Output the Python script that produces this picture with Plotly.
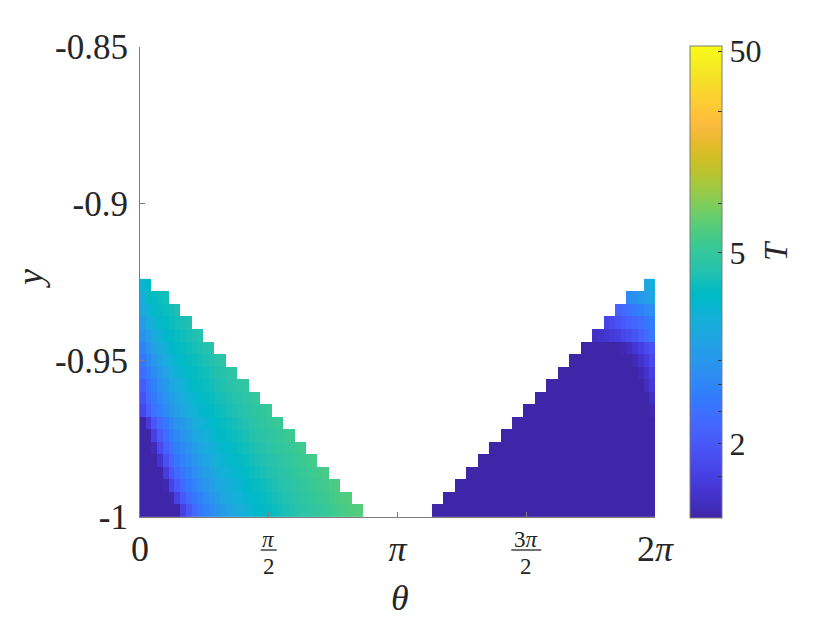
import numpy as np
import plotly.graph_objects as go

# ---------------- grid (theta columns, y rows) ----------------
N_THETA = 90
N_Y = 19
Y_BOTTOM, Y_TOP = -1.0, -0.924
theta_edges = np.linspace(0.0, 2 * np.pi, N_THETA + 1)
y_edges = np.linspace(Y_BOTTOM, Y_TOP, N_Y + 1)

# ---------------- data: T values (rows bottom -> top) ----------------
# left wedge: each row starts at theta = 0
T_left = [
    [1.5, 1.5, 1.5, 1.5, 1.5, 1.5, 1.65, 1.83, 1.99, 2.16, 2.29, 2.42, 2.54, 2.68, 2.81, 2.96, 3.13, 3.27, 3.40, 3.51,
     3.64, 3.78, 3.89, 4.00, 4.11, 4.24, 4.37, 4.51, 4.62, 4.74, 4.88, 5.01, 5.17, 5.31, 5.48, 5.64, 5.81, 5.96, 6.12],
    [1.5, 1.5, 1.5, 1.5, 1.5, 1.67, 1.84, 2.01, 2.17, 2.30, 2.43, 2.56, 2.70, 2.83, 3.00, 3.15, 3.29, 3.41, 3.53, 3.66,
     3.80, 3.91, 4.02, 4.15, 4.27, 4.40, 4.52, 4.63, 4.76, 4.89, 5.04, 5.19, 5.35, 5.50, 5.68, 5.83, 5.96],
    [1.5, 1.5, 1.5, 1.5, 1.67, 1.85, 2.02, 2.17, 2.31, 2.44, 2.57, 2.71, 2.86, 3.01, 3.17, 3.30, 3.42, 3.55, 3.70,
     3.82, 3.93, 4.05, 4.16, 4.30, 4.42, 4.55, 4.66, 4.78, 4.92, 5.06, 5.22, 5.37, 5.54, 5.70, 5.85],
    [1.5, 1.5, 1.5, 1.5, 1.80, 1.99, 2.15, 2.29, 2.42, 2.56, 2.70, 2.85, 3.01, 3.18, 3.31, 3.44, 3.57, 3.72,
     3.84, 3.96, 4.07, 4.19, 4.33, 4.45, 4.57, 4.69, 4.82, 4.96, 5.10, 5.26, 5.40, 5.56, 5.74],
    [1.5, 1.5, 1.5, 1.75, 1.94, 2.12, 2.26, 2.41, 2.54, 2.70, 2.85, 3.01, 3.19, 3.32, 3.46, 3.59, 3.74,
     3.87, 3.98, 4.09, 4.21, 4.36, 4.47, 4.59, 4.71, 4.85, 4.98, 5.13, 5.27, 5.44, 5.60],
    [1.5, 1.5, 1.69, 1.90, 2.08, 2.24, 2.38, 2.52, 2.68, 2.84, 3.01, 3.19, 3.33, 3.47, 3.62,
     3.78, 3.89, 4.00, 4.11, 4.24, 4.37, 4.50, 4.61, 4.74, 4.86, 5.01, 5.15, 5.31, 5.46],
    [1.5, 1.5, 1.84, 2.03, 2.20, 2.37, 2.51, 2.67, 2.83, 3.01, 3.20, 3.34, 3.49, 3.64,
     3.79, 3.91, 4.02, 4.14, 4.26, 4.40, 4.52, 4.63, 4.75, 4.89, 5.03, 5.18, 5.33],
    [1.5, 1.78, 2.00, 2.18, 2.34, 2.50, 2.66, 2.82, 3.01, 3.21, 3.35, 3.51, 3.66,
     3.81, 3.93, 4.04, 4.16, 4.29, 4.42, 4.54, 4.66, 4.78, 4.91, 5.06, 5.20],
    [1.87, 2.07, 2.24, 2.39, 2.54, 2.71, 2.88, 3.06, 3.24, 3.39, 3.54, 3.70,
     3.83, 3.95, 4.07, 4.19, 4.32, 4.44, 4.57, 4.68, 4.82, 4.94, 5.10],
    [1.96, 2.16, 2.34, 2.49, 2.67, 2.85, 3.04, 3.24, 3.39, 3.55, 3.73,
     3.86, 3.97, 4.08, 4.21, 4.34, 4.46, 4.58, 4.71, 4.83, 4.98],
    [2.04, 2.24, 2.42, 2.60, 2.80, 3.01, 3.23, 3.39, 3.56, 3.76,
     3.88, 3.99, 4.10, 4.24, 4.37, 4.48, 4.61, 4.72, 4.86],
    [2.16, 2.36, 2.55, 2.76, 2.98, 3.23, 3.40, 3.59,
     3.79, 3.90, 4.01, 4.12, 4.26, 4.38, 4.51, 4.62, 4.75],
    [2.27, 2.48, 2.71, 2.95, 3.21, 3.40, 3.62,
     3.81, 3.92, 4.03, 4.15, 4.28, 4.41, 4.54, 4.65],
    [2.43, 2.67, 2.93, 3.20, 3.42, 3.65,
     3.83, 3.94, 4.06, 4.17, 4.31, 4.44, 4.55],
    [2.63, 2.90, 3.20, 3.43, 3.68, 3.85, 3.97, 4.08, 4.20, 4.33, 4.46],
    [2.85, 3.19, 3.44, 3.73, 3.87, 3.99, 4.10, 4.22, 4.36],
    [3.14, 3.46, 3.78, 3.89, 4.01, 4.12, 4.25],
    [3.25, 3.78, 3.90, 4.02, 4.14],
    [3.45, 3.80],
]

# right wedge: each row ends at theta = 2*pi
T_right = [
    [1.5, 1.5, 1.5, 1.5, 1.5, 1.5, 1.5, 1.5, 1.5, 1.5,
     1.5, 1.5, 1.5, 1.5, 1.5, 1.5, 1.5, 1.5, 1.5, 1.5,
     1.5, 1.5, 1.5, 1.5, 1.5, 1.5, 1.5, 1.5, 1.5, 1.5,
     1.5, 1.5, 1.5, 1.5, 1.5, 1.5, 1.5, 1.5, 1.5],
    [1.5, 1.5, 1.5, 1.5, 1.5, 1.5, 1.5, 1.5, 1.5, 1.5,
     1.5, 1.5, 1.5, 1.5, 1.5, 1.5, 1.5, 1.5, 1.5, 1.5,
     1.5, 1.5, 1.5, 1.5, 1.5, 1.5, 1.5, 1.5, 1.5, 1.5,
     1.5, 1.5, 1.5, 1.5, 1.5, 1.5, 1.5],
    [1.5, 1.5, 1.5, 1.5, 1.5, 1.5, 1.5, 1.5, 1.5, 1.5,
     1.5, 1.5, 1.5, 1.5, 1.5, 1.5, 1.5, 1.5, 1.5, 1.5,
     1.5, 1.5, 1.5, 1.5, 1.5, 1.5, 1.5, 1.5, 1.5, 1.5,
     1.5, 1.5, 1.5, 1.5, 1.5],
    [1.5, 1.5, 1.5, 1.5, 1.5, 1.5, 1.5, 1.5, 1.5, 1.5,
     1.5, 1.5, 1.5, 1.5, 1.5, 1.5, 1.5, 1.5, 1.5, 1.5,
     1.5, 1.5, 1.5, 1.5, 1.5, 1.5, 1.5, 1.5, 1.5, 1.5,
     1.5, 1.5, 1.5],
    [1.5, 1.5, 1.5, 1.5, 1.5, 1.5, 1.5, 1.5, 1.5, 1.5,
     1.5, 1.5, 1.5, 1.5, 1.5, 1.5, 1.5, 1.5, 1.5, 1.5,
     1.5, 1.5, 1.5, 1.5, 1.5, 1.5, 1.5, 1.5, 1.5, 1.5,
     1.5],
    [1.5, 1.5, 1.5, 1.5, 1.5, 1.5, 1.5, 1.5, 1.5, 1.5,
     1.5, 1.5, 1.5, 1.5, 1.5, 1.5, 1.5, 1.5, 1.5, 1.5,
     1.5, 1.5, 1.5, 1.5, 1.5, 1.5, 1.5, 1.5, 1.5],
    [1.5, 1.5, 1.5, 1.5, 1.5, 1.5, 1.5, 1.5, 1.5, 1.5,
     1.5, 1.5, 1.5, 1.5, 1.5, 1.5, 1.5, 1.5, 1.5, 1.5,
     1.5, 1.5, 1.5, 1.5, 1.5, 1.5, 1.5],
    [1.5, 1.5, 1.5, 1.5, 1.5, 1.5, 1.5, 1.5, 1.5, 1.5,
     1.5, 1.5, 1.5, 1.5, 1.5, 1.5, 1.5, 1.5, 1.5, 1.5,
     1.5, 1.5, 1.5, 1.5, 1.5],
    [1.5, 1.5, 1.5, 1.5, 1.5, 1.5, 1.5, 1.5, 1.5, 1.5,
     1.5, 1.5, 1.5, 1.5, 1.5, 1.5, 1.5, 1.5, 1.5, 1.5,
     1.5, 1.5, 1.67],
    [1.5, 1.5, 1.5, 1.5, 1.5, 1.5, 1.5, 1.5, 1.5, 1.5,
     1.5, 1.5, 1.5, 1.5, 1.5, 1.5, 1.5, 1.5, 1.5, 1.5,
     1.72],
    [1.5, 1.5, 1.5, 1.5, 1.5, 1.5, 1.5, 1.5, 1.5, 1.5,
     1.5, 1.5, 1.5, 1.5, 1.5, 1.5, 1.5, 1.70, 1.78],
    [1.5, 1.5, 1.5, 1.5, 1.5, 1.5, 1.5, 1.5, 1.5, 1.5,
     1.5, 1.5, 1.5, 1.5, 1.68, 1.74, 1.82],
    [1.5, 1.5, 1.5, 1.5, 1.5, 1.5, 1.5, 1.5, 1.5, 1.5,
     1.5, 1.68, 1.74, 1.80, 1.90],
    [1.5, 1.5, 1.5, 1.5, 1.5, 1.5, 1.5, 1.67, 1.70, 1.76, 1.82, 1.90, 1.97],
    [1.72, 1.74, 1.76, 1.78, 1.82, 1.87, 1.92, 1.97, 2.07, 2.16, 2.28],
    [1.85, 1.90, 1.95, 2.01, 2.07, 2.13, 2.20, 2.28, 2.36],
    [2.10, 2.16, 2.24, 2.32, 2.40, 2.50, 2.60],
    [2.54, 2.65, 2.76, 2.88, 3.01],
    [3.08, 3.31],
]

# axis ticks
x_tick_vals = [0, np.pi / 2, np.pi, 3 * np.pi / 2, 2 * np.pi]
x_tick_text = ["0", "", "<i>π</i>", "", "2<i>π</i>"]
x_frac_num = ["<i>π</i>", "3<i>π</i>"]          # stacked fractions at pi/2 and 3pi/2
x_frac_vals = [np.pi / 2, 3 * np.pi / 2]
y_tick_vals = [-1, -0.95, -0.9, -0.85]
y_tick_text = ["-1", "-0.95", "-0.9", "-0.85"]

# colour axis: log scale of ln(T), range ln T in [0.5, 4]
CB_LN_MIN, CB_LN_MAX = 0.5, 4.0
cb_major_T = [2, 5, 50]
cb_minor_lnT = [0.6, 0.8, 0.9, 1.0, 2.0, 3.0]

# parula (64)
parula = [
    [0.2422, 0.1504, 0.6603], [0.2504, 0.1650, 0.7076], [0.2578, 0.1818, 0.7511], [0.2647, 0.1978, 0.7952],
    [0.2706, 0.2147, 0.8364], [0.2751, 0.2342, 0.8710], [0.2783, 0.2559, 0.8991], [0.2803, 0.2782, 0.9221],
    [0.2813, 0.3006, 0.9414], [0.2810, 0.3228, 0.9579], [0.2795, 0.3447, 0.9717], [0.2760, 0.3667, 0.9829],
    [0.2699, 0.3892, 0.9906], [0.2602, 0.4123, 0.9952], [0.2440, 0.4358, 0.9988], [0.2206, 0.4603, 0.9973],
    [0.1963, 0.4847, 0.9892], [0.1834, 0.5074, 0.9798], [0.1786, 0.5289, 0.9682], [0.1764, 0.5499, 0.9520],
    [0.1687, 0.5703, 0.9359], [0.1540, 0.5902, 0.9218], [0.1460, 0.6091, 0.9079], [0.1380, 0.6276, 0.8973],
    [0.1248, 0.6459, 0.8883], [0.1113, 0.6635, 0.8763], [0.0952, 0.6798, 0.8598], [0.0689, 0.6948, 0.8394],
    [0.0297, 0.7082, 0.8163], [0.0036, 0.7203, 0.7917], [0.0067, 0.7312, 0.7660], [0.0433, 0.7411, 0.7394],
    [0.0964, 0.7500, 0.7120], [0.1408, 0.7584, 0.6842], [0.1717, 0.7670, 0.6554], [0.1938, 0.7758, 0.6251],
    [0.2161, 0.7843, 0.5923], [0.2470, 0.7918, 0.5567], [0.2906, 0.7973, 0.5188], [0.3406, 0.8008, 0.4789],
    [0.3909, 0.8029, 0.4354], [0.4456, 0.8024, 0.3909], [0.5044, 0.7993, 0.3480], [0.5616, 0.7942, 0.3045],
    [0.6174, 0.7876, 0.2612], [0.6720, 0.7793, 0.2227], [0.7242, 0.7698, 0.1910], [0.7738, 0.7598, 0.1646],
    [0.8203, 0.7498, 0.1535], [0.8634, 0.7406, 0.1596], [0.9035, 0.7330, 0.1774], [0.9393, 0.7288, 0.2100],
    [0.9728, 0.7298, 0.2394], [0.9956, 0.7434, 0.2371], [0.9970, 0.7659, 0.2199], [0.9952, 0.7893, 0.2028],
    [0.9892, 0.8136, 0.1885], [0.9786, 0.8386, 0.1766], [0.9676, 0.8639, 0.1643], [0.9610, 0.8890, 0.1537],
    [0.9597, 0.9135, 0.1423], [0.9628, 0.9373, 0.1265], [0.9691, 0.9606, 0.1064], [0.9769, 0.9839, 0.0805],
]
colorscale = [[i / (len(parula) - 1), "rgb(%d,%d,%d)" % tuple(round(255 * c) for c in rgb)]
              for i, rgb in enumerate(parula)]

# ---------------- assemble matrix ----------------
z = [[None] * N_THETA for _ in range(N_Y)]
for r in range(N_Y):
    L, R = T_left[r], T_right[r]
    for j, v in enumerate(L):
        z[r][j] = float(np.log10(np.log(v)))
    for k, v in enumerate(R):
        z[r][N_THETA - len(R) + k] = float(np.log10(np.log(v)))

cb_vals = [np.log10(np.log(t)) for t in cb_major_T] + [np.log10(v) for v in cb_minor_lnT]
cb_text = [str(t) for t in cb_major_T] + [""] * len(cb_minor_lnT)

FONT = "Liberation Serif"
TXT = "#262626"
AX = "rgb(125,125,125)"

# page body adds an 8px margin: figure is shrunk so the plot lands where the reference has it
OFF = 8
W, H = 830 - OFF, 623 - OFF
PLOT_L, PLOT_R, PLOT_T, PLOT_B = 140, 655, 47, 517     # reference pixels
L_M, T_M = PLOT_L - OFF, PLOT_T - OFF
PW, PH = PLOT_R - PLOT_L, PLOT_B - PLOT_T
R_M, B_M = W - L_M - PW, H - T_M - PH

def px_x(px):
    return (px - PLOT_L) / PW

def px_y(py):
    return (PLOT_B - py) / PH

fig = go.Figure()
fig.add_trace(go.Heatmap(
    x=theta_edges, y=y_edges, z=z,
    colorscale=colorscale,
    zmin=np.log10(CB_LN_MIN), zmax=np.log10(CB_LN_MAX),
    hoverongaps=False,
    colorbar=dict(
        x=px_x(690), xanchor="left", xpad=0,
        y=0.5, yanchor="middle", ypad=0,
        thickness=32, thicknessmode="pixels",
        len=472, lenmode="pixels",
        outlinewidth=1, outlinecolor=AX,
        tickmode="array", tickvals=cb_vals, ticktext=cb_text,
        ticks="inside", ticklen=4, tickcolor="#333333", tickwidth=1,
        tickfont=dict(family=FONT, size=32, color=TXT),
        tickprefix=" \u2009",
    ),
))

fig.update_layout(
    width=W, height=H,
    margin=dict(l=L_M, r=R_M, t=T_M, b=B_M, autoexpand=False),
    paper_bgcolor="white", plot_bgcolor="white",
    font=dict(family=FONT, color=TXT),
    xaxis=dict(
        range=[0, 2 * np.pi], showgrid=False, zeroline=False,
        showline=True, linecolor=AX, linewidth=1,
        ticks="inside", ticklen=5, tickcolor=AX,
        tickmode="array", tickvals=x_tick_vals, ticktext=x_tick_text,
        tickfont=dict(family=FONT, size=36, color=TXT),
        ticklabelstandoff=0,
    ),
    yaxis=dict(
        range=[-1, -0.85], showgrid=False, zeroline=False,
        showline=True, linecolor=AX, linewidth=1,
        ticks="inside", ticklen=5, tickcolor=AX,
        tickmode="array", tickvals=y_tick_vals, ticktext=y_tick_text,
        tickfont=dict(family=FONT, size=35, color=TXT),
        ticklabelstandoff=4,
    ),
)

ann = []
shapes = []
for v, num, half_px in zip(x_frac_vals, x_frac_num, [8, 15]):
    ann.append(dict(x=v, xref="x", y=px_y(539), yref="paper", text=num, showarrow=False,
                    font=dict(family=FONT, size=23, color=TXT), xanchor="center", yanchor="middle"))
    ann.append(dict(x=v, xref="x", y=px_y(566), yref="paper", text="2", showarrow=False,
                    font=dict(family=FONT, size=23, color=TXT), xanchor="center", yanchor="middle"))
    half = half_px * 2 * np.pi / PW
    shapes.append(dict(type="line", xref="x", yref="paper", x0=v - half, x1=v + half,
                       y0=px_y(550), y1=px_y(550), line=dict(color=TXT, width=1.3)))

ann.append(dict(x=px_x(30), y=px_y(279), xref="paper", yref="paper", text="<i>y</i>", showarrow=False,
                textangle=-90, xanchor="center", yanchor="middle",
                font=dict(family=FONT, size=36, color=TXT)))
ann.append(dict(x=px_x(400), y=px_y(598), xref="paper", yref="paper", text="<i>θ</i>", showarrow=False,
                xanchor="center", yanchor="middle",
                font=dict(family=FONT, size=36, color=TXT)))
ann.append(dict(x=px_x(776), y=px_y(251), xref="paper", yref="paper", text="<i>T</i>", showarrow=False,
                textangle=-90, xanchor="center", yanchor="middle",
                font=dict(family=FONT, size=33, color=TXT)))

fig.update_layout(annotations=ann, shapes=shapes)
fig.write_html("out.html")
